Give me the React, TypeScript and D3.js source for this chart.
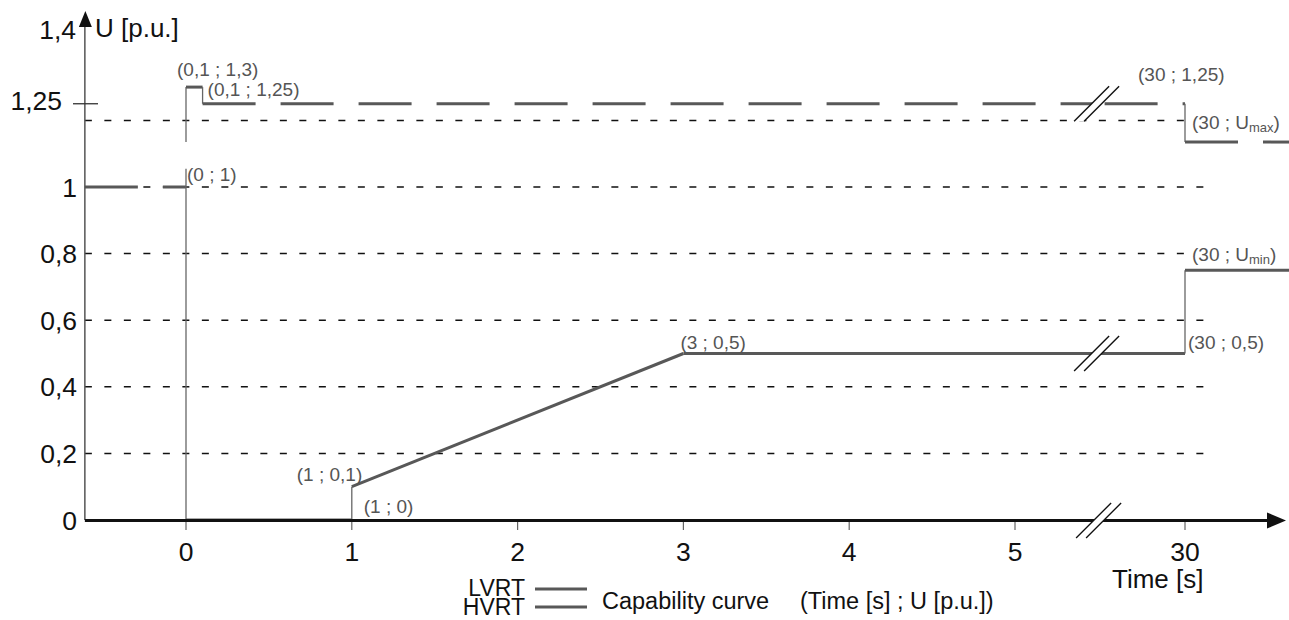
import React from 'react';
import * as d3 from 'd3';

const W = 1289;
const H = 620;

// ---- data ----
const yTickValues = [0, 0.2, 0.4, 0.6, 0.8, 1];
const yTickLabels = ['0', '0,2', '0,4', '0,6', '0,8', '1'];
const gridValues = [0.2, 0.4, 0.6, 0.8, 1, 1.2];
const xTickValues = [0, 1, 2, 3, 4, 5, 30];
const xTickLabels = ['0', '1', '2', '3', '4', '5', '30'];
const U_MAX = 1.135;
const U_MIN = 0.75;
const T_START = -0.61;
const T_BREAK = 17;
const T_END = 46;

// LVRT capability curve
const lvrtPre: [number, number][] = [[T_START, 1], [0, 1]];
const lvrtCurve: [number, number][] = [
  [0, 1.055], [0, 0], [1, 0], [1, 0.1], [3, 0.5], [30, 0.5], [30, U_MIN], [T_END, U_MIN],
];
// HVRT capability curve
const hvrtCurve: [number, number][] = [[0, U_MAX], [0, 1.3], [0.1, 1.3], [0.1, 1.25]];
const hvrtMidA: [number, number][] = [[0.1, 1.25], [T_BREAK, 1.25]];
const hvrtMidB: [number, number][] = [[T_BREAK, 1.25], [30, 1.25]];
const hvrtDrop: [number, number][] = [[30, 1.25], [30, U_MAX]];
const hvrtPost: [number, number][] = [[30, U_MAX], [T_END, U_MAX]];

const annotations = [
  { t: 0, u: 1.3, text: '(0,1 ; 1,3)' },
  { t: 0.1, u: 1.25, text: '(0,1 ; 1,25)' },
  { t: 0, u: 1, text: '(0 ; 1)' },
  { t: 30, u: 1.25, text: '(30 ; 1,25)' },
  { t: 30, u: 1.2, text: '(30 ; U', sub: 'max' },
  { t: 30, u: U_MIN, text: '(30 ; U', sub: 'min' },
  { t: 30, u: 0.5, text: '(30 ; 0,5)' },
  { t: 3, u: 0.5, text: '(3 ; 0,5)' },
  { t: 1, u: 0.1, text: '(1 ; 0,1)' },
  { t: 1, u: 0, text: '(1 ; 0)' },
];
const annOffsets = [
  [-9, -11], [5, -8], [1, -6], [-47, -23], [7, 9], [7, -9], [3, -5], [-3, -5], [-55, -6], [12, -7],
];

const FONT = "'Liberation Sans', Arial, Helvetica, sans-serif";
const CURVE = '#585858';

export default function App() {
  const x = d3.scaleLinear().domain([0, 5, 30]).range([186, 1015, 1185]);
  const y = d3.scaleLinear().domain([0, 1]).range([520, 187]);

  const x0 = x(T_START);
  const yAxisY = y(0) + 0.5;
  const bx = x(T_BREAK);

  const line = d3.line<[number, number]>().x((d) => x(d[0])).y((d) => y(d[1]));

  const segs = (pts: [number, number][]) =>
    pts.slice(1).map((p, i) => {
      const a = pts[i];
      const vertical = a[0] === p[0];
      return (
        <line
          key={i}
          x1={x(a[0])}
          y1={y(a[1])}
          x2={x(p[0])}
          y2={y(p[1])}
          stroke={vertical ? '#666' : CURVE}
          strokeWidth={vertical ? 1.3 : 3}
        />
      );
    });

  const breakMark = (cy: number, cx: number, key: string) => {
    const h = 17.5;
    const g = 5;
    return (
      <g key={key}>
        <polygon
          points={`${cx - g - h},${cy + h} ${cx - g + h},${cy - h} ${cx + g + h},${cy - h} ${cx + g - h},${cy + h}`}
          fill="#fff"
        />
        <line x1={cx - g - h} y1={cy + h} x2={cx - g + h} y2={cy - h} stroke="#111" strokeWidth={1.4} />
        <line x1={cx + g - h} y1={cy + h} x2={cx + g + h} y2={cy - h} stroke="#111" strokeWidth={1.4} />
      </g>
    );
  };

  return (
    <svg
      width={W}
      height={H}
      style={{ position: 'absolute', left: 0, top: 0, background: '#fff' }}
      fontFamily={FONT}
    >
      {/* grid lines */}
      {gridValues.map((v) => (
        <line
          key={v}
          x1={x0}
          x2={v === 0.8 || v === 1.2 ? 1188 : 1205}
          y1={y(v)}
          y2={y(v)}
          stroke="#111"
          strokeWidth={1.5}
          strokeDasharray="7 12.5"
        />
      ))}

      {/* LVRT */}
      <path d={line(lvrtPre) || ''} fill="none" stroke={CURVE} strokeWidth={3} strokeDasharray="53 25" />
      {segs(lvrtCurve)}

      {/* HVRT */}
      {segs(hvrtCurve)}
      <path d={line(hvrtMidA) || ''} fill="none" stroke={CURVE} strokeWidth={3} strokeDasharray="53 25" />
      <path d={line(hvrtMidB) || ''} fill="none" stroke={CURVE} strokeWidth={3} strokeDasharray="53 25" strokeDashoffset={-8} />
      {segs(hvrtDrop)}
      <path d={line(hvrtPost) || ''} fill="none" stroke={CURVE} strokeWidth={3} strokeDasharray="53 25" />

      {/* y axis */}
      <line x1={x0} x2={x0} y1={y(0)} y2={26} stroke="#555" strokeWidth={1.5} />
      <polygon points={`${x0 - 6},27 ${x0 + 0.5},11 ${x0 + 7},27`} fill="#111" />
      <line x1={73} x2={98} y1={y(1.25)} y2={y(1.25)} stroke="#333" strokeWidth={1.3} />

      {/* x ticks */}
      {xTickValues.map((v) => (
        <line key={v} x1={x(v)} x2={x(v)} y1={y(0)} y2={y(0) + 10} stroke="#666" strokeWidth={1.2} />
      ))}

      {/* x axis */}
      <line x1={x0} x2={1268} y1={yAxisY} y2={yAxisY} stroke="#111" strokeWidth={3} />
      <polygon points={`1267,${yAxisY - 8} 1286,${yAxisY} 1267,${yAxisY + 8}`} fill="#111" />

      {/* break marks */}
      {breakMark(y(1.25), bx, 'b1')}
      {breakMark(y(0.5), bx, 'b2')}
      {breakMark(yAxisY, bx + 2, 'b3')}

      {/* y tick labels */}
      {yTickValues.map((v, i) => (
        <text key={v} x={77} y={y(v) + 9.5} textAnchor="end" fontSize={26.5} fill="#111">
          {yTickLabels[i]}
        </text>
      ))}
      <text x={62} y={y(1.25) + 6.5} textAnchor="end" fontSize={26.5} fill="#111">1,25</text>
      <text x={76} y={39} textAnchor="end" fontSize={26.5} fill="#111">1,4</text>
      <text x={95} y={37} fontSize={26} fill="#111">U [p.u.]</text>

      {/* x tick labels */}
      {xTickValues.map((v, i) => (
        <text key={v} x={x(v)} y={561} textAnchor="middle" fontSize={26.5} fill="#111">
          {xTickLabels[i]}
        </text>
      ))}
      <text x={1112} y={588} fontSize={26} fill="#111">Time [s]</text>

      {/* annotations */}
      {annotations.map((a, i) => (
        <text
          key={i}
          x={x(a.t) + annOffsets[i][0]}
          y={y(a.u) + annOffsets[i][1]}
          fontSize={19}
          fill="#555"
        >
          {a.text}
          {a.sub ? (
            <>
              <tspan fontSize={13} dy={3}>{a.sub}</tspan>
              <tspan dy={-3}>)</tspan>
            </>
          ) : null}
        </text>
      ))}

      {/* legend */}
      <text x={525} y={596} textAnchor="end" fontSize={23} fill="#111">LVRT</text>
      <text x={525} y={615} textAnchor="end" fontSize={23} fill="#111">HVRT</text>
      <line x1={535} x2={587} y1={589} y2={589} stroke={CURVE} strokeWidth={3} />
      <line x1={535} x2={587} y1={607} y2={607} stroke={CURVE} strokeWidth={3} />
      <text x={602} y={609} fontSize={23.5} fill="#111">Capability curve</text>
      <text x={800} y={609} fontSize={23.5} fill="#111">(Time [s] ; U [p.u.])</text>
    </svg>
  );
}
